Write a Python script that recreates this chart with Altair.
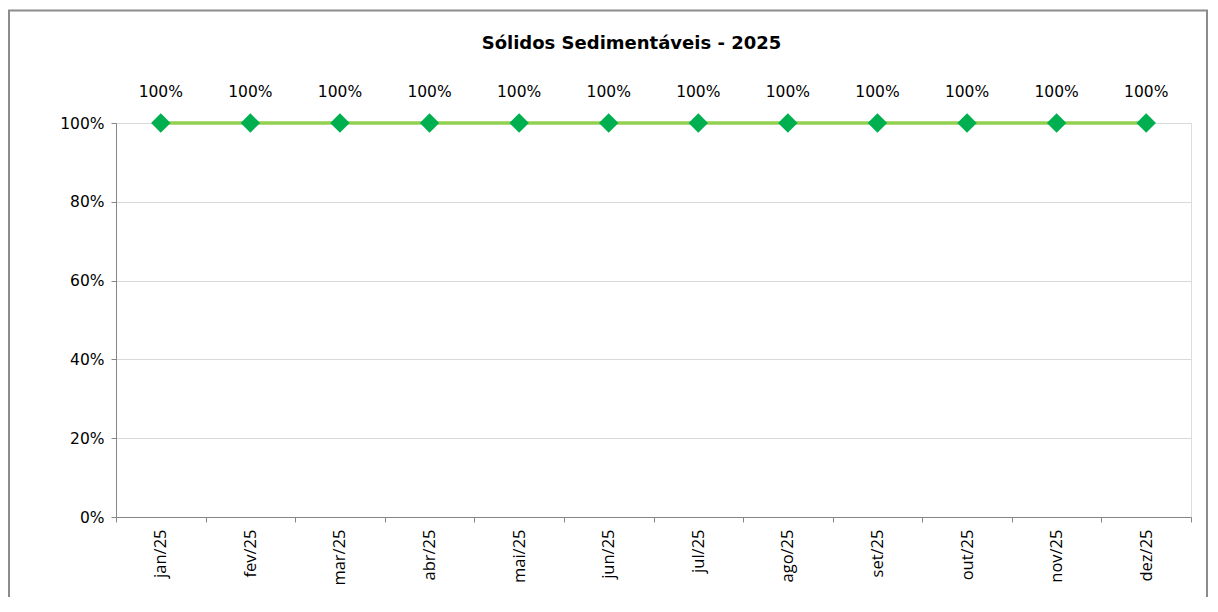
import altair as alt
import pandas as pd

months = ["jan/25", "fev/25", "mar/25", "abr/25", "mai/25", "jun/25",
          "jul/25", "ago/25", "set/25", "out/25", "nov/25", "dez/25"]
values = [1.0, 1.0, 1.0, 1.0, 1.0, 1.0, 1.0, 1.0, 1.0, 1.0, 1.0, 1.0]
labels = ["100%"] * 12
title_text = "Sólidos Sedimentáveis - 2025"

df = pd.DataFrame({"mes": months, "valor": values, "rotulo": labels})

x_enc = alt.X("mes:N", sort=months, title=None,
              scale=alt.Scale(paddingInner=0, paddingOuter=0),
              axis=alt.Axis(labelAngle=-90, tickBand="extent", labelFont="Open Sans",
                            labelFontSize=16.5, labelColor="#000000", labelPadding=7,
                            domainColor="#868686", tickColor="#868686", tickSize=5,
                            labelBaseline="middle", labelAlign="right"))
y_enc = alt.Y("valor:Q", title=None,
              scale=alt.Scale(domain=[0, 1], nice=False),
              axis=alt.Axis(format="%", values=[0, 0.2, 0.4, 0.6, 0.8, 1.0],
                            labelFont="DejaVu Sans", labelFontSize=15.5, labelColor="#000000",
                            labelPadding=7, domainColor="#868686", tickColor="#868686",
                            tickSize=5, gridColor="#d9d9d9", gridWidth=1))

base = alt.Chart(df).encode(x=x_enc, y=y_enc)

line = base.mark_line(color="#92d050", strokeWidth=3.5)
pts = base.mark_point(shape="diamond", filled=True, size=380, color="#00b050", opacity=1)
txt = base.mark_text(dy=-31, font="DejaVu Sans", fontSize=15.5, color="#000000").encode(
    text="rotulo:N")

border = alt.Chart(alt.Data(values=[{"a": 1}])).mark_rect(
    fillOpacity=0, stroke="#8c8c8c", strokeWidth=2
).encode(x=alt.value(-107), x2=alt.value(1091), y=alt.value(-112.5), y2=alt.value(500))

chart = alt.layer(line, pts, txt, border).properties(
    width=1075, height=394,
    title=alt.TitleParams(title_text, font="DejaVu Sans", fontSize=18, fontWeight="bold",
                          color="#000000", anchor="middle", dx=-22, offset=-43),
    autosize=alt.AutoSizeParams(type="none"),
    padding={"left": 108, "top": 115, "right": 18, "bottom": 80},
).configure_view(stroke=None).configure(background="#ffffff")

chart.save("out.html", embed_options={"renderer": "svg", "actions": False})
